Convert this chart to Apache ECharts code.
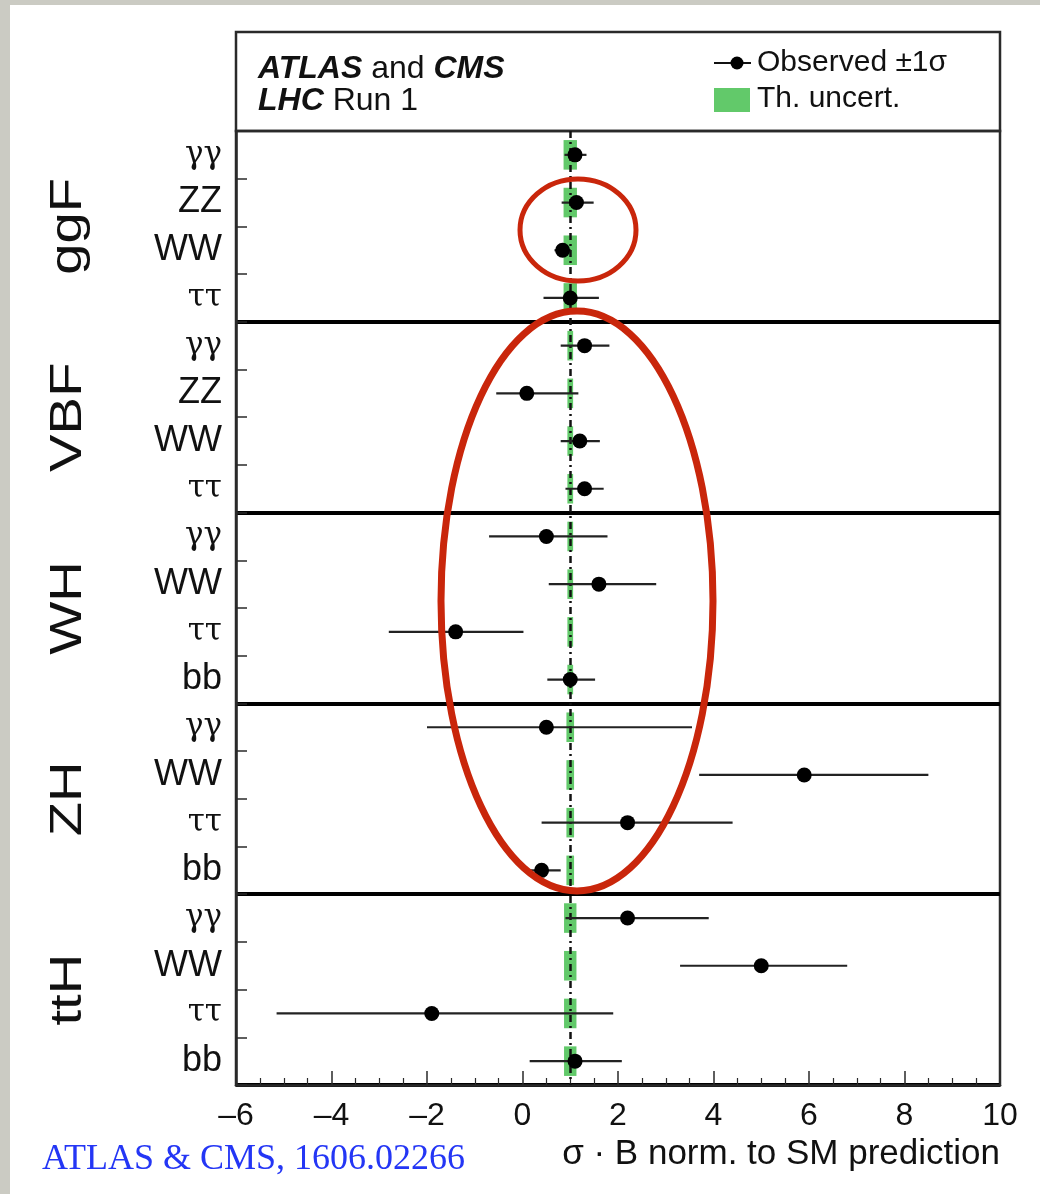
<!DOCTYPE html>
<html>
<head>
<meta charset="utf-8">
<script src="https://cdn.jsdelivr.net/npm/echarts@6/dist/echarts.min.js"></script>
<style>
  html, body { margin: 0; padding: 0; background: #fff; }
  #main { width: 1040px; height: 1194px; }
</style>
</head>
<body>
<div id="main"></div>
<script>
// production modes, 4 decay channels each (top to bottom)
const processes = ['ggF', 'VBF', 'WH', 'ZH', 'ttH'];
const decays = [
  'γγ', 'ZZ', 'WW', 'ττ',
  'γγ', 'ZZ', 'WW', 'ττ',
  'γγ', 'WW', 'ττ', 'bb',
  'γγ', 'WW', 'ττ', 'bb',
  'γγ', 'WW', 'ττ', 'bb'
];
// observed sigma*B / SM and -1sigma / +1sigma
const mu      = [1.10, 1.13, 0.84, 1.00,  1.30, 0.09, 1.20, 1.30,  0.50, 1.60, -1.40, 1.00,  0.50, 5.90, 2.20, 0.40,  2.20, 5.00, -1.90, 1.10];
const errDown = [0.22, 0.31, 0.17, 0.56,  0.50, 0.64, 0.40, 0.40,  1.20, 1.05, 1.40, 0.48,  2.50, 2.20, 1.80, 0.38,  1.30, 1.70, 3.25, 0.95];
const errUp   = [0.24, 0.36, 0.17, 0.60,  0.52, 1.08, 0.42, 0.40,  1.28, 1.20, 1.42, 0.52,  3.05, 2.60, 2.20, 0.40,  1.70, 1.80, 3.80, 0.98];
// theory uncertainty (half width around 1)
const thUnc   = [0.14, 0.14, 0.14, 0.14,  0.06, 0.06, 0.06, 0.06,  0.06, 0.06, 0.06, 0.06,  0.08, 0.08, 0.08, 0.08,  0.13, 0.13, 0.13, 0.13];
const xMin = -6, xMax = 10, xStep = 2;

const rowNames = decays.map((d, i) => processes[Math.floor(i / 4)] + ' ' + d);

const chart = echarts.init(document.getElementById('main'));

const frameColor = '#2a2a2a';
const sans = 'Liberation Sans';

const option = {
  animation: false,
  backgroundColor: '#fff',
  grid: {
    left: 236, right: 40, top: 131, bottom: 109,
    show: true, borderColor: frameColor, borderWidth: 2.5
  },
  xAxis: {
    type: 'value', min: xMin, max: xMax, interval: xStep,
    axisLine: { show: true, onZero: false, lineStyle: { color: frameColor, width: 2.5 } },
    axisTick: { show: true, inside: true, length: 14, lineStyle: { color: frameColor, width: 1.5 } },
    minorTick: { show: true, splitNumber: 4, length: 7, lineStyle: { color: frameColor, width: 1.2 } },
    splitLine: { show: false },
    axisLabel: {
      fontFamily: sans, fontSize: 32, color: '#111', margin: 15,
      formatter: v => v < 0 ? '–' + Math.abs(v) : String(v)
    }
  },
  yAxis: {
    type: 'category', data: rowNames, inverse: true,
    axisLine: { show: true, onZero: false, lineStyle: { color: frameColor, width: 2.5 } },
    axisTick: { show: true, inside: true, length: 11, lineStyle: { color: frameColor, width: 1.5 } },
    splitLine: {
      show: true,
      interval: (idx) => idx > 0 && idx % 4 === 0,
      lineStyle: { color: '#000', width: 4 }
    },
    axisLabel: {
      margin: 14,
      formatter: (v, i) => {
        const d = decays[i];
        return (d === 'γγ' || d === 'ττ') ? '{g|' + d + '}' : '{n|' + d + '}';
      },
      rich: {
        n: { fontFamily: sans, fontSize: 36, color: '#111' },
        g: { fontFamily: 'DejaVu Serif', fontSize: 31, color: '#111' }
      }
    }
  },
  series: [
    {
      // theory band
      type: 'custom', z: 1,
      data: thUnc.map((t, i) => [1 - t, 1 + t, i]),
      encode: { x: [0, 1], y: 2 },
      renderItem: (params, api) => {
        const a = api.coord([api.value(0), api.value(2)]);
        const b = api.coord([api.value(1), api.value(2)]);
        const h = api.size([0, 1])[1] * 0.62;
        return {
          type: 'rect',
          shape: { x: a[0], y: a[1] - h / 2, width: b[0] - a[0], height: h },
          style: { fill: '#62c96a' }
        };
      }
    },
    {
      // error bars
      type: 'custom', z: 3,
      data: mu.map((m, i) => [m - errDown[i], m + errUp[i], i]),
      encode: { x: [0, 1], y: 2 },
      renderItem: (params, api) => {
        const a = api.coord([api.value(0), api.value(2)]);
        const b = api.coord([api.value(1), api.value(2)]);
        return {
          type: 'line',
          shape: { x1: a[0], y1: a[1], x2: b[0], y2: b[1] },
          style: { stroke: '#222', lineWidth: 2.2 }
        };
      }
    },
    {
      type: 'scatter', z: 5,
      symbol: 'circle', symbolSize: 15,
      itemStyle: { color: '#000', opacity: 1 },
      data: mu.map((m, i) => [m, i]),
      markLine: {
        z: 2, silent: true, symbol: 'none', label: { show: false },
        lineStyle: { color: '#111', width: 2.5, type: [7, 4, 2, 4] },
        data: [{ xAxis: 1 }]
      }
    }
  ],
  graphic: [
    // slide border
    { type: 'rect', z: 0, shape: { x: 0, y: 0, width: 10, height: 1194 }, style: { fill: '#cbcbc3' } },
    { type: 'rect', z: 0, shape: { x: 0, y: 0, width: 1040, height: 5 }, style: { fill: '#cbcbc3' } },
    // header box
    { type: 'rect', shape: { x: 236, y: 32, width: 764, height: 99 }, style: { fill: 'none', stroke: frameColor, lineWidth: 2.5 } },
    {
      type: 'text', left: 258, top: 53,
      style: {
        text: '{b|ATLAS} and {b|CMS}\n{b|LHC} Run 1',
        fontFamily: sans, fontSize: 32, fill: '#111', lineHeight: 32,
        rich: { b: { fontFamily: sans, fontSize: 32, fontWeight: 'bold', fontStyle: 'italic', fill: '#111', lineHeight: 32 } }
      }
    },
    // legend
    { type: 'line', shape: { x1: 714, y1: 63, x2: 751, y2: 63 }, style: { stroke: '#111', lineWidth: 2 } },
    { type: 'circle', shape: { cx: 737, cy: 63, r: 6.5 }, style: { fill: '#000' } },
    { type: 'text', left: 757, top: 48, style: { text: 'Observed ±1σ', fontFamily: sans, fontSize: 30, fill: '#111' } },
    { type: 'rect', shape: { x: 714, y: 88, width: 36, height: 24 }, style: { fill: '#62c96a' } },
    { type: 'text', left: 757, top: 84, style: { text: 'Th. uncert.', fontFamily: sans, fontSize: 30, fill: '#111' } },
    // axis title and citation
    { type: 'text', right: 40, top: 1137, style: { text: 'σ · B norm. to SM prediction', fontFamily: sans, fontSize: 35, fill: '#111' } },
    { type: 'text', left: 42, top: 1142, style: { text: 'ATLAS & CMS, 1606.02266', fontFamily: 'Liberation Serif', fontSize: 36, fill: '#2436f5' } },
    // hand-drawn annotation circles
    { type: 'ellipse', z: 10, shape: { cx: 578, cy: 230, rx: 58, ry: 51 }, style: { fill: 'none', stroke: '#c9260b', lineWidth: 5 } },
    { type: 'ellipse', z: 10, shape: { cx: 577, cy: 601, rx: 136, ry: 290 }, style: { fill: 'none', stroke: '#c9260b', lineWidth: 7 } }
  ]
};

chart.setOption(option);

// rotated production-mode labels centred on each block of four rows
const procLabels = processes.map((p, k) => {
  const y1 = chart.convertToPixel({ yAxisIndex: 0 }, rowNames[k * 4 + 1]);
  const y2 = chart.convertToPixel({ yAxisIndex: 0 }, rowNames[k * 4 + 2]);
  return {
    type: 'text', x: 69, y: (y1 + y2) / 2, rotation: Math.PI / 2,
    scaleX: 1.25,
    style: { text: p, fontFamily: sans, fontSize: 45, fill: '#111', align: 'center', verticalAlign: 'middle' }
  };
});
chart.setOption({ graphic: option.graphic.concat(procLabels) });
</script>
</body>
</html>
